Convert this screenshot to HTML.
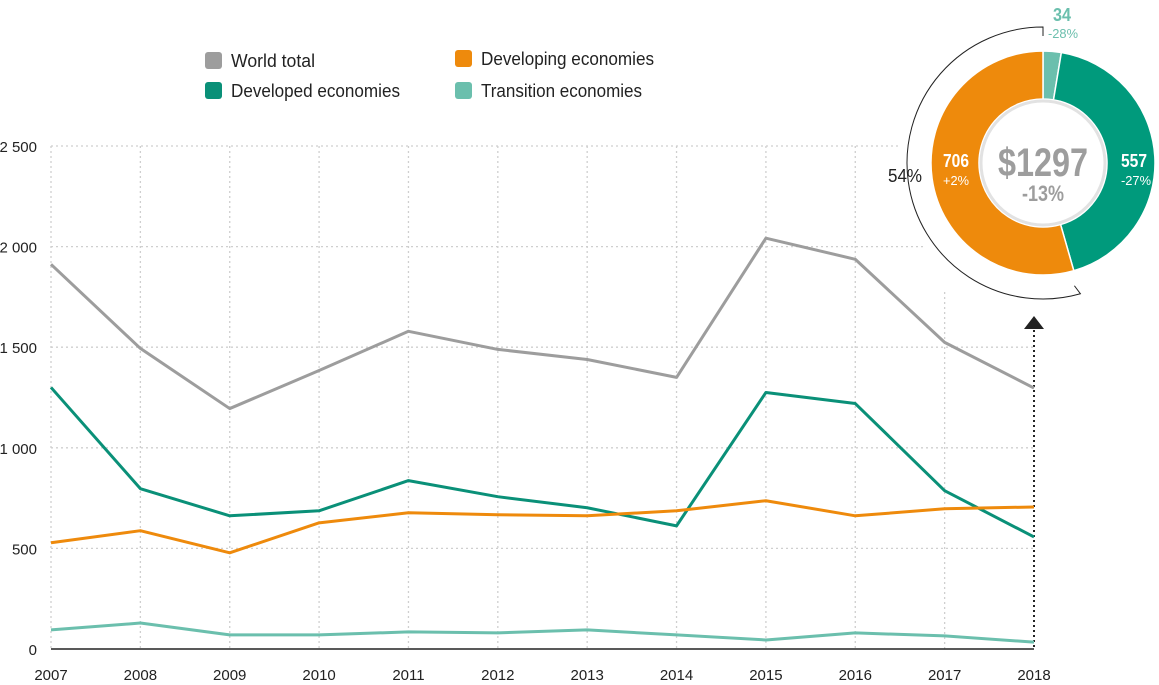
<!DOCTYPE html>
<html><head><meta charset="utf-8"><style>
body{margin:0;background:#fff;}
svg{display:block;font-family:"Liberation Sans Narrow","Liberation Sans",sans-serif;}
</style></head><body>
<svg id="chart" width="1159" height="685" viewBox="0 0 1159 685"></svg>
<script>
const years=[2007,2008,2009,2010,2011,2012,2013,2014,2015,2016,2017,2018];
const worldTotal=[1912,1494,1195,1384,1579,1489,1439,1350,2042,1937,1524,1297];
const developed=[1300,797,662,687,837,757,702,612,1275,1220,787,557];
const developing=[528,588,478,627,677,667,662,687,737,662,697,706];
const transition=[95,129,70,70,85,80,95,70,45,80,65,34];
const yTicks=[0,500,1000,1500,2000,2500];
const yTickLabels=["0","500","1 000","1 500","2 000","2 500"];
const donutValues=[34,557,706];
const donutColors=["#6bbfad","#009a7c","#ee8a0c"];

const NS="http://www.w3.org/2000/svg";
const svg=document.getElementById('chart');
function el(t,a,p){const e=document.createElementNS(NS,t);for(const k in a)e.setAttribute(k,a[k]);(p||svg).appendChild(e);return e;}
const x0=51,x1=1034,y0=649,yTop=146;
const xs=i=>x0+(x1-x0)*i/(years.length-1);
const ys=v=>y0-(y0-yTop)*v/2500;

yTicks.forEach((v,i)=>{
  if(v>0){const g=el('line',{x1:x0,x2:x1,y1:ys(v),y2:ys(v),stroke:'#cfcfcf','stroke-width':1.3,'stroke-dasharray':'2 3'});
  
  }
  const t=el('text',{x:37,y:ys(v)+6,'text-anchor':'end','font-size':15,fill:'#222'});
  t.textContent=yTickLabels[i];
  
  
});
years.forEach((yr,i)=>{
  if(i<years.length-1){const g=el('line',{x1:xs(i),x2:xs(i),y1:i==10?292:yTop,y2:y0,stroke:'#cfcfcf','stroke-width':1.3,'stroke-dasharray':'2 3'});
  
  }
  const t=el('text',{x:xs(i),y:680,'text-anchor':'middle','font-size':15,fill:'#222'});
  t.textContent=yr;
  
  
});
const ax=el('line',{x1:x0,x2:x1,y1:y0,y2:y0,stroke:'#222','stroke-width':1.5});


const al=el('line',{x1:xs(11),x2:xs(11),y1:330,y2:y0,stroke:'#222','stroke-width':2,'stroke-dasharray':'2 3'});


const tri=el('polygon',{points:`${xs(11)-10},329 ${xs(11)+10},329 ${xs(11)},316`,fill:'#222'});



[[worldTotal,'#9d9d9d','world-total-line'],[developed,'#0a9078','developed-line'],[developing,'#ee8a0c','developing-line'],[transition,'#6bbfad','transition-line']].forEach(([d,c,n])=>{
  const p=el('polyline',{points:d.map((v,i)=>xs(i)+','+ys(v)).join(' '),fill:'none',stroke:c,'stroke-width':3,'stroke-linejoin':'round'});
  
  
});

[['World total','#9d9d9d',205,52,84],['Developed economies','#0a9078',205,82,169],['Developing economies','#ee8a0c',455,50,173],['Transition economies','#6bbfad',455,82,161]].forEach(([t,c,x,y,w])=>{
  const g=el('g',{});
  
  
  el('rect',{x:x,y:y,width:17,height:17,rx:3,fill:c},g);
  const tx=el('text',{x:x+26,y:y+15,'font-size':18,fill:'#222',textLength:w,lengthAdjust:'spacingAndGlyphs'},g);
  tx.textContent=t;
});

const cx=1043,cy=163,rO=112,rI=64;
const bg=el('circle',{cx:cx,cy:cy,r:145,fill:'#fff'});


const total=donutValues.reduce((a,b)=>a+b,0);
let a0=0;
const pt=(r,a)=>[cx+r*Math.sin(a),cy-r*Math.cos(a)];
const sliceNames=['donut-transition','donut-developed','donut-developing'];
donutValues.forEach((v,i)=>{
  const a1=a0+v/total*2*Math.PI;
  const [ax0,ay0]=pt(rO,a0),[ax1,ay1]=pt(rO,a1),[bx1,by1]=pt(rI,a1),[bx0,by0]=pt(rI,a0);
  const lg=(a1-a0)>Math.PI?1:0;
  const p=el('path',{d:`M${ax0},${ay0}A${rO},${rO} 0 ${lg} 1 ${ax1},${ay1}L${bx1},${by1}A${rI},${rI} 0 ${lg} 0 ${bx0},${by0}Z`,fill:donutColors[i],stroke:'#fff','stroke-width':1.5});
  
  
  a0=a1;
});
const ic=el('circle',{cx:cx,cy:cy,r:rI-2,fill:'#fff',stroke:'#e2e2e2','stroke-width':3});


const startA=(donutValues[0]+donutValues[1])/total*2*Math.PI;
const rb=136;
const [s0x,s0y]=pt(rb,startA),[s1x,s1y]=pt(rb,2*Math.PI);
const br=el('path',{d:`M${s0x-6},${s0y-8}L${s0x},${s0y}A${rb},${rb} 0 1 1 ${s1x},${s1y}L${s1x},${s1y+9}`,fill:'none',stroke:'#222','stroke-width':1});



function txt(s,x,y,size,fill,name,bold,w){
  const a={x:x,y:y,'font-size':size,fill:fill,'text-anchor':'middle','font-weight':bold?'bold':'normal'};
  if(w){a.textLength=w;a.lengthAdjust='spacingAndGlyphs';}
  const t=el('text',a);
  t.textContent=s;
  
  
  return t;
}
txt('$1297',cx,176,40,'#9d9d9d','donut-total-value',true,90);
txt('-13%',cx,201,22,'#9d9d9d','donut-total-change',true,42);
txt('706',956,167,18,'#fff','developing-value',true,26);
txt('+2%',956,185,13,'#fff','developing-change',false,26);
txt('557',1134,167,18,'#fff','developed-value',true,26);
txt('-27%',1136,185,13,'#fff','developed-change',false,30);
txt('34',1062,21,18,'#6bbfad','transition-value',true,18);
txt('-28%',1063,38,13,'#6bbfad','transition-change',false,30);
txt('54%',905,182,18,'#222','developing-share-label',false,34);
</script>
</body></html>
